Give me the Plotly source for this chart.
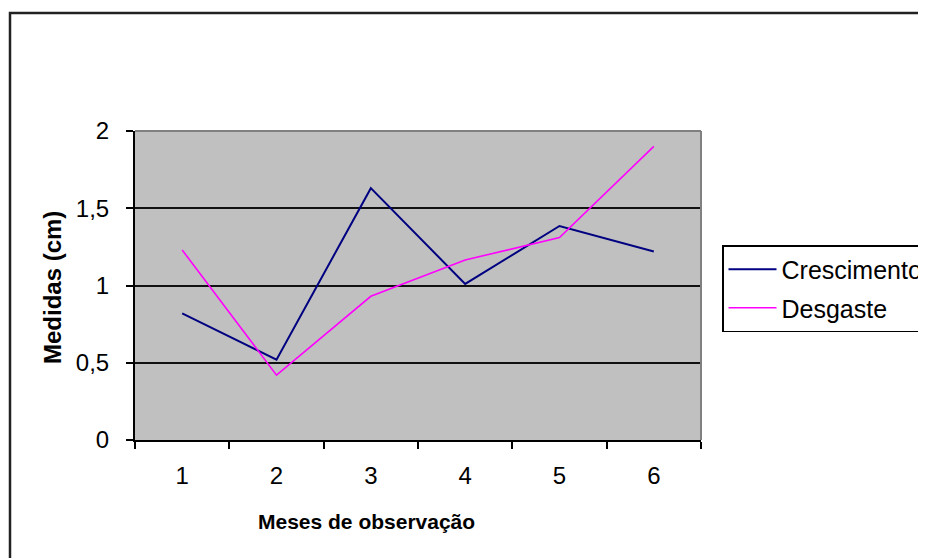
import plotly.graph_objects as go

meses = ["1", "2", "3", "4", "5", "6"]
crescimento = [0.82, 0.52, 1.63, 1.01, 1.385, 1.22]
desgaste = [1.23, 0.42, 0.93, 1.165, 1.31, 1.90]
y_ticks = [0, 0.5, 1, 1.5, 2]
y_tick_labels = ["0", "0,5", "1", "1,5", "2"]

FONT = "Liberation Sans, Arial, sans-serif"

fig = go.Figure()
fig.add_trace(go.Scatter(x=meses, y=crescimento, mode="lines", name="Crescimento",
                         line=dict(color="#000080", width=2), legendgroup="a"))
fig.add_trace(go.Scatter(x=meses, y=desgaste, mode="lines", name="Desgaste",
                         line=dict(color="#FF00FF", width=1.6), legendgroup="b"))

OFF = 8  # page body margin
W, H = 926 - OFF, 558 - OFF
L, R, T, B = 135 - OFF, 701 - OFF, 131 - OFF, 440 - OFF
pw, ph = R - L, B - T

def px(x):
    return (x - OFF - L) / pw

def py(y):
    return (B - (y - OFF)) / ph

fig.update_layout(
    width=W, height=H,
    margin=dict(l=L, r=W - R, t=T, b=H - B, pad=0, autoexpand=False),
    paper_bgcolor="white",
    plot_bgcolor="#C0C0C0",
    font=dict(family=FONT, size=24, color="black"),
    showlegend=True,
    legend=dict(x=px(722), y=py(245), xanchor="left", yanchor="top",
                bordercolor="black", borderwidth=1.5, bgcolor="white",
                font=dict(size=25), tracegroupgap=3, itemwidth=48),
    xaxis=dict(type="category", range=[-0.5, 5.5], tickson="boundaries",
               ticks="outside", ticklen=7, tickwidth=2, tickcolor="black",
               showline=True, linecolor="black", linewidth=2, showgrid=False,
               ticklabelstandoff=13, tickfont=dict(size=24)),
    yaxis=dict(range=[0, 2], tickvals=y_ticks, ticktext=y_tick_labels,
               ticks="outside", ticklen=7, tickwidth=2, tickcolor="black",
               showline=True, linecolor="black", linewidth=2,
               showgrid=True, gridcolor="#111111", gridwidth=2, zeroline=False,
               ticklabelstandoff=12, tickfont=dict(size=24)),
    shapes=[
        dict(type="rect", xref="paper", yref="paper", x0=px(10), x1=px(1000),
             y0=py(620), y1=py(13), line=dict(color="#222222", width=2.5),
             fillcolor="rgba(0,0,0,0)", layer="below"),
        dict(type="line", xref="paper", yref="paper", x0=0, x1=1, y0=1, y1=1,
             line=dict(color="#808080", width=2), layer="above"),
        dict(type="line", xref="paper", yref="paper", x0=1, x1=1, y0=0, y1=1,
             line=dict(color="#808080", width=2), layer="above"),
    ],
    annotations=[
        dict(text="<b>Meses de observação</b>", xref="paper", yref="paper",
             x=px(366), y=py(521), showarrow=False, font=dict(size=21),
             xanchor="center", yanchor="middle"),
        dict(text="<b>Medidas (cm)</b>", xref="paper", yref="paper",
             x=px(52), y=py(288), showarrow=False, font=dict(size=24),
             textangle=-90, xanchor="center", yanchor="middle"),
    ],
)

fig.write_html("out.html")
